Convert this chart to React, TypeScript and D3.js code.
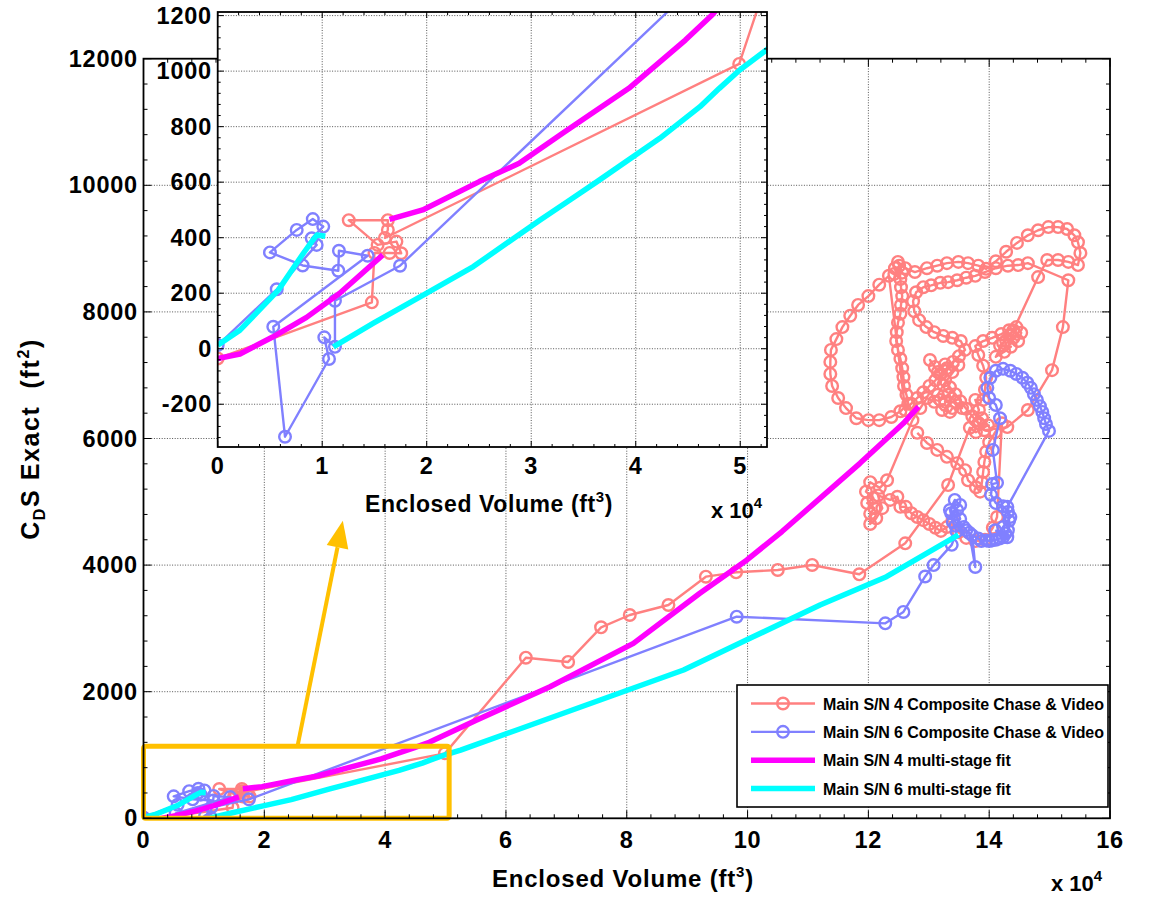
import { useEffect, useRef } from 'react'
import * as d3 from 'd3'

type Pt = [number, number]

// volume in 10^4 ft^3, CdS in ft^2
const sn4Data: Pt[] = [
  [0, -35], [1.475, 167], [1.5, 345], [1.645, 345], [1.756, 344], [1.71, 386], [1.53, 374],
  [1.254, 463], [1.628, 463], [1.628, 428], [1.6, 399], [4.99, 1026], [6.33, 2537], [7.03, 2470],
  [7.575, 3017], [8.05, 3212], [8.69, 3370], [9.31, 3817], [9.81, 3886], [10.5, 3923], [11.07, 4002],
  [11.85, 3855], [12.61, 4344], [13.32, 5265],
  [13.68, 6170], [13.78, 6100], [13.98, 6210], [13.88, 6320],
  [13.77, 6290], [13.83, 6450], [13.77, 6610], [13.9, 6610], [13.93, 6770], [13.95, 6960], [13.9, 7150], [13.82, 7320],
  [13.77, 7460], [13.9, 7540], [14.05, 7590], [14.2, 7650], [14.33, 7710], [14.45, 7760], [14.53, 7670],
  [14.48, 7540], [14.4, 7590], [14.28, 7550], [14.18, 7470], [14.36, 7450], [14.25, 7370], [14.11, 7290],
  [14.23, 7510], [14.35, 7640], [14.4, 7710],
  [14.81, 8550],
  [14.96, 8820], [15.14, 8820], [15.31, 8790], [15.47, 8740], [15.51, 8930], [15.47, 9100],
  [15.41, 9210], [15.29, 9310], [15.14, 9340], [14.98, 9340], [14.81, 9290], [14.64, 9210], [14.46, 9090],
  [14.28, 8950], [14.11, 8800], [13.95, 8680],
  [13.82, 8730], [13.65, 8770], [13.49, 8790], [13.3, 8770], [13.14, 8730], [12.97, 8690], [12.77, 8630],
  [12.61, 8690], [12.49, 8790], [12.56, 8620], [12.44, 8690], [12.53, 8520], [12.43, 8600], [12.51, 8730],
  [12.54, 8390], [12.56, 8250], [12.54, 8110], [12.53, 7970], [12.49, 7830], [12.47, 7680], [12.46, 7540],
  [12.49, 7400], [12.53, 7260], [12.56, 7110], [12.58, 6970], [12.59, 6830], [12.63, 6690], [12.66, 6550],
  [12.53, 6430], [12.38, 6340], [12.18, 6290], [12.0, 6290], [11.8, 6320], [11.63, 6480], [11.5, 6640],
  [11.4, 6830], [11.37, 7020], [11.37, 7210], [11.38, 7400], [11.47, 7570], [11.57, 7760], [11.7, 7940],
  [11.83, 8110], [12.0, 8250], [12.18, 8430], [12.34, 8570],
  [12.61, 6450],
  [12.71, 6550], [12.81, 6640], [12.91, 6730], [13.01, 6830], [13.11, 6920], [13.2, 7020], [13.3, 7110],
  [13.4, 7210], [13.5, 7300], [13.6, 7400],
  [13.53, 7540], [13.39, 7590], [13.24, 7620], [13.09, 7680], [12.96, 7760], [12.84, 7870], [12.76, 8010],
  [12.74, 8170], [12.79, 8310], [12.91, 8390],
  [13.04, 8420], [13.19, 8460], [13.32, 8470], [13.47, 8500], [13.62, 8540], [13.77, 8570], [13.93, 8630],
  [14.11, 8690], [14.31, 8730], [14.48, 8740], [14.64, 8770],
  [15.31, 8500], [15.22, 7760], [15.04, 7080], [14.64, 6450], [14.3, 6180],
  [13.92, 6130], [13.82, 6240], [13.72, 6350], [13.62, 6470], [13.52, 6590], [13.44, 6700], [13.35, 6810],
  [13.27, 6920], [13.19, 7020], [13.1, 7130], [13.02, 7240],
  [13.15, 7050], [13.27, 7170], [13.39, 7050], [13.49, 7160], [13.24, 6845],
  [13.15, 6690], [13.19, 6610], [13.32, 6690], [13.27, 6580], [13.44, 6580], [13.55, 6480], [13.39, 6480],
  [13.35, 6420], [13.22, 6450], [13.09, 6580], [12.97, 6640], [12.86, 6480],
  [12.73, 6290],
  [12.31, 5340], [12.19, 5220], [12.03, 5310], [11.96, 5160], [12.08, 5060], [11.98, 4980], [12.1, 4900],
  [12.03, 4810], [12.03, 4650], [12.13, 4740], [12.23, 4900], [12.16, 5100], [12.36, 5030], [12.48, 5080],
  [12.53, 4920],
  [12.62, 4920], [12.71, 4820], [12.81, 4760], [12.91, 4710], [13.01, 4650], [13.11, 4590], [13.2, 4540],
  [13.3, 4600], [13.39, 4700], [13.49, 4520], [13.62, 4430], [13.77, 4380], [13.93, 4400], [14.06, 4590],
  [14.13, 4760],
  [14.21, 6240], [14.1, 6100], [14.0, 5940], [13.95, 5790], [13.92, 5630], [13.9, 5470], [13.88, 5310],
  [13.85, 5160], [13.78, 5230], [13.65, 5340], [13.6, 5500], [13.47, 5610], [13.3, 5710], [13.14, 5820],
  [12.97, 5930], [12.81, 6090]
]

const sn6Data: Pt[] = [
  [0, 13], [0.565, 214], [0.947, 374], [0.9, 398], [1.01, 440], [0.91, 467], [0.756, 428], [0.5, 347],
  [0.813, 300], [1.154, 281], [1.16, 353], [1.435, 335], [0.532, 79], [0.644, -317], [1.065, -37],
  [1.02, 41], [1.122, 7], [1.122, 173], [1.745, 299], [9.82, 3185], [12.28, 3080], [12.58, 3260],
  [12.94, 3820], [13.08, 4000], [13.38, 4320], [13.46, 4530],
  [13.4, 4680], [13.35, 4870], [13.43, 5030], [13.52, 4950], [13.37, 4820], [13.47, 4870], [13.52, 4730],
  [13.44, 4620], [13.58, 4600], [13.62, 4550], [13.67, 4510], [13.77, 3970], [13.72, 4470], [13.82, 4420],
  [13.87, 4380], [13.95, 4390], [14.0, 4380], [14.05, 4390], [14.11, 4400], [14.17, 4420], [14.23, 4440],
  [14.27, 4500], [14.31, 4550], [14.33, 4700], [14.31, 4840], [14.23, 4930], [14.11, 4980], [14.03, 5110],
  [14.05, 5280], [14.13, 5300], [14.06, 5820], [14.18, 6320], [14.11, 6530], [14.0, 6640], [13.97, 6800],
  [14.02, 6960], [14.11, 7070], [14.23, 7100], [14.35, 7070], [14.45, 7020], [14.55, 6960], [14.63, 6880],
  [14.69, 6800], [14.74, 6700], [14.79, 6610], [14.84, 6510], [14.88, 6420], [14.91, 6320], [14.94, 6230],
  [14.99, 6120], [14.3, 4920], [14.35, 4760], [14.23, 4600], [14.3, 4440], [14.1, 4550]
]

const sn4FitStage1: Pt[] = [[0, -35], [0.213, -19], [0.53, 43], [0.85, 113], [1.167, 200], [1.58, 338]]
const sn4FitStage2: Pt[] = [
  [1.644, 466], [1.962, 500], [2.503, 602], [2.885, 668], [3.3, 776], [3.934, 938], [4.475, 1112],
  [4.73, 1202], [5.517, 1553], [6.73, 2079], [8.11, 2764], [9.21, 3555], [9.99, 4081], [10.57, 4530],
  [11.86, 5608], [12.58, 6240], [12.83, 6502]
]
const sn6FitStage1: Pt[] = [[0, 13], [0.213, 67], [0.58, 211], [0.82, 344], [0.9, 386], [0.95, 410], [1.03, 405]]
const sn6FitStage2: Pt[] = [
  [1.107, 7], [1.49, 92], [2.0, 200], [2.446, 296], [3.085, 464], [3.37, 536], [3.63, 602], [4.23, 758],
  [4.615, 872], [4.8, 938], [4.995, 1004], [5.25, 1076], [6.18, 1395], [7.56, 1869], [8.94, 2343],
  [10.04, 2843], [11.2, 3370], [12.3, 3817], [13.49, 4476]
]

const mainXTicks = [0, 2, 4, 6, 8, 10, 12, 14, 16]
const mainYTicks = [0, 2000, 4000, 6000, 8000, 10000, 12000]
const insetXTicks = [0, 1, 2, 3, 4, 5]
const insetYTicks = [-200, 0, 200, 400, 600, 800, 1000, 1200]

const legendLabels = [
  'Main S/N 4 Composite Chase & Video',
  'Main S/N 6 Composite Chase & Video',
  'Main S/N 4 multi-stage fit',
  'Main S/N 6 multi-stage fit'
]

// zoomed region shown in the inset, and the arrow pointing to it
const zoomBox = { x0: 0, x1: 5.06, y0: 0, y1: 1140 }
const arrowFrom: Pt = [2.55, 1140]
const arrowTo: Pt = [3.3, 4700]

const RED = '#FF8080'
const BLUE = '#8080FF'
const MAGENTA = '#FF00FF'
const CYAN = '#00FFFF'
const GOLD = '#FFC000'
const FONT = "'Liberation Sans', Arial, Helvetica, sans-serif"

type Lin = d3.ScaleLinear<number, number>
type Sel = d3.Selection<SVGGElement, unknown, null, undefined>

function range(a: number, b: number, step: number) {
  const out: number[] = []
  for (let v = a; v <= b + 1e-9; v += step) out.push(+v.toFixed(6))
  return out
}

function drawGrid(g: Sel, x: Lin, y: Lin, xMajor: number[], yMajor: number[]) {
  const [xl, xr] = x.range()
  const [yb, yt] = y.range()
  // dotted grid
  const grid = g.append('g').attr('stroke', '#555').attr('stroke-width', 1).attr('stroke-dasharray', '1,1.6')
  xMajor.filter(v => x(v) > xl + 2 && x(v) < xr - 2).forEach(v => {
    grid.append('line').attr('x1', x(v)).attr('x2', x(v)).attr('y1', yb).attr('y2', yt)
  })
  yMajor.filter(v => y(v) < yb - 2 && y(v) > yt + 2).forEach(v => {
    grid.append('line').attr('x1', xl).attr('x2', xr).attr('y1', y(v)).attr('y2', y(v))
  })
}

function drawBox(g: Sel, x: Lin, y: Lin, xMajor: number[], yMajor: number[], xStep: number, yStep: number, maj: number, min: number) {
  const [xl, xr] = x.range()
  const [yb, yt] = y.range()
  const [dx0, dx1] = x.domain()
  const [dy0, dy1] = y.domain()
  const t = g.append('g').attr('stroke', '#000').attr('stroke-width', 1)
  const xMinor = range(Math.ceil(dx0 / xStep) * xStep, dx1, xStep)
  const yMinor = range(Math.ceil(dy0 / yStep) * yStep, dy1, yStep)
  xMinor.forEach(v => {
    const len = xMajor.some(m => Math.abs(m - v) < 1e-6) ? maj : min
    t.append('line').attr('x1', x(v)).attr('x2', x(v)).attr('y1', yb).attr('y2', yb - len)
    t.append('line').attr('x1', x(v)).attr('x2', x(v)).attr('y1', yt).attr('y2', yt + len)
  })
  yMinor.forEach(v => {
    const len = yMajor.some(m => Math.abs(m - v) < 1e-6) ? maj : min
    t.append('line').attr('x1', xl).attr('x2', xl + len).attr('y1', y(v)).attr('y2', y(v))
    t.append('line').attr('x1', xr).attr('x2', xr - len).attr('y1', y(v)).attr('y2', y(v))
  })
  g.append('rect')
    .attr('x', xl).attr('y', yt).attr('width', xr - xl).attr('height', yb - yt)
    .attr('fill', 'none').attr('stroke', '#000').attr('stroke-width', 1.8)
}

function drawData(g: Sel, x: Lin, y: Lin) {
  const line = d3.line<Pt>().x(d => x(d[0])).y(d => y(d[1]))
  const series: [Pt[], string][] = [[sn4Data, RED], [sn6Data, BLUE]]
  series.forEach(([pts, color]) => {
    g.append('path').attr('d', line(pts)).attr('fill', 'none').attr('stroke', color)
      .attr('stroke-width', 2.4).attr('stroke-linejoin', 'round')
    g.append('g').selectAll('circle').data(pts).join('circle')
      .attr('cx', d => x(d[0])).attr('cy', d => y(d[1])).attr('r', 5.8)
      .attr('fill', 'none').attr('stroke', color).attr('stroke-width', 2.4)
  })
  const fits: [Pt[], string][] = [
    [sn4FitStage1, MAGENTA], [sn4FitStage2, MAGENTA], [sn6FitStage1, CYAN], [sn6FitStage2, CYAN]
  ]
  fits.forEach(([pts, color]) => {
    g.append('path').attr('d', line(pts)).attr('fill', 'none').attr('stroke', color)
      .attr('stroke-width', 5.5).attr('stroke-linejoin', 'round')
  })
}

export default function App() {
  const svgRef = useRef<SVGSVGElement>(null)

  useEffect(() => {
    if (!svgRef.current) return
    const svg = d3.select(svgRef.current)
    svg.selectAll('*').remove()

    const x = d3.scaleLinear().domain([0, 16]).range([143.5, 1110])
    const y = d3.scaleLinear().domain([0, 12000]).range([818.3, 58.7])
    const xi = d3.scaleLinear().domain([0, 5.256]).range([217.7, 767])
    const yi = d3.scaleLinear().domain([-354, 1213]).range([447, 12])

    const defs = svg.append('defs')
    defs.append('clipPath').attr('id', 'clipMain').append('rect')
      .attr('x', 143.5).attr('y', 58.7).attr('width', 1110 - 143.5).attr('height', 818.3 - 58.7)
    defs.append('clipPath').attr('id', 'clipInset').append('rect')
      .attr('x', 217.7).attr('y', 12).attr('width', 767 - 217.7).attr('height', 447 - 12)

    svg.append('rect').attr('width', 1169).attr('height', 898).attr('fill', '#fff')

    // main axes
    const main = svg.append('g').attr('font-family', FONT).attr('font-weight', 'bold')
    drawGrid(main, x, y, mainXTicks, mainYTicks)
    drawData(main.append('g').attr('clip-path', 'url(#clipMain)'), x, y)

    // zoom box + arrow
    main.append('rect')
      .attr('x', x(zoomBox.x0)).attr('y', y(zoomBox.y1))
      .attr('width', x(zoomBox.x1) - x(zoomBox.x0)).attr('height', y(zoomBox.y0) - y(zoomBox.y1))
      .attr('fill', 'none').attr('stroke', GOLD).attr('stroke-width', 5).attr('rx', 2)
    const ax0 = x(arrowFrom[0]), ay0 = y(arrowFrom[1]), ax1 = x(arrowTo[0]), ay1 = y(arrowTo[1])
    const len = Math.hypot(ax1 - ax0, ay1 - ay0)
    const ux = (ax1 - ax0) / len, uy = (ay1 - ay0) / len
    const bx = ax1 - ux * 27, by = ay1 - uy * 27
    main.append('line').attr('x1', ax0).attr('y1', ay0).attr('x2', bx).attr('y2', by)
      .attr('stroke', GOLD).attr('stroke-width', 4)
    main.append('path')
      .attr('d', `M${ax1},${ay1}L${bx - uy * 11},${by + ux * 11}L${bx + uy * 11},${by - ux * 11}Z`)
      .attr('fill', GOLD)

    drawBox(main, x, y, mainXTicks, mainYTicks, 0.4, 400, 8, 4)

    main.append('g').selectAll('text').data(mainXTicks).join('text')
      .attr('x', d => x(d)).attr('y', 848).attr('text-anchor', 'middle')
      .attr('font-size', 23.5).attr('letter-spacing', 0.8).text(d => d)
    main.append('g').selectAll('text').data(mainYTicks).join('text')
      .attr('x', 138).attr('y', d => y(d) + 8).attr('text-anchor', 'end')
      .attr('font-size', 23.5).attr('letter-spacing', 0.8).text(d => d)

    const xl = main.append('text').attr('x', 623).attr('y', 887).attr('text-anchor', 'middle')
      .attr('font-size', 24).attr('letter-spacing', 0.8)
    xl.append('tspan').text('Enclosed Volume (ft')
    xl.append('tspan').attr('font-size', 15).attr('dy', -10).text('3')
    xl.append('tspan').attr('dy', 10).text(')')

    const xm = main.append('text').attr('x', 1051).attr('y', 891).attr('font-size', 22)
    xm.append('tspan').text('x 10')
    xm.append('tspan').attr('font-size', 15).attr('dy', -10).text('4')

    const yl = main.append('text').attr('transform', 'translate(39,439) rotate(-90)')
      .attr('text-anchor', 'middle').attr('font-size', 25).attr('letter-spacing', 1.6)
      .attr('xml:space', 'preserve').style('white-space', 'pre')
    yl.append('tspan').text('C')
    yl.append('tspan').attr('font-size', 16).attr('dy', 6).text('D')
    yl.append('tspan').attr('dy', -6).text('S Exact  (ft')
    yl.append('tspan').attr('font-size', 16).attr('dy', -10).text('2')
    yl.append('tspan').attr('dy', 10).text(')')

    // legend
    const lg = main.append('g')
    lg.append('rect').attr('x', 737).attr('y', 685).attr('width', 371).attr('height', 122)
      .attr('fill', '#fff').attr('stroke', '#000').attr('stroke-width', 1.6)
    const legColors = [RED, BLUE, MAGENTA, CYAN]
    const rowY = d3.scalePoint<number>().domain([0, 1, 2, 3]).range([703.5, 788.5])
    legendLabels.forEach((label, i) => {
      const cy = rowY(i) as number
      lg.append('line').attr('x1', 751).attr('x2', 815).attr('y1', cy).attr('y2', cy)
        .attr('stroke', legColors[i]).attr('stroke-width', i < 2 ? 2.4 : 5.5)
      if (i < 2) {
        lg.append('circle').attr('cx', 783).attr('cy', cy).attr('r', 5.8)
          .attr('fill', 'none').attr('stroke', legColors[i]).attr('stroke-width', 2.4)
      }
      lg.append('text').attr('x', 823).attr('y', cy + 6).attr('font-size', 16).attr('letter-spacing', -0.1)
        .text(label)
    })

    // inset axes
    const inset = svg.append('g').attr('font-family', FONT).attr('font-weight', 'bold')
    inset.append('rect').attr('x', 217.7).attr('y', 12).attr('width', 767 - 217.7).attr('height', 447 - 12)
      .attr('fill', '#fff')
    drawGrid(inset, xi, yi, insetXTicks, insetYTicks)
    drawData(inset.append('g').attr('clip-path', 'url(#clipInset)'), xi, yi)
    drawBox(inset, xi, yi, insetXTicks, insetYTicks, 0.2, 40, 6, 3)

    inset.append('g').selectAll('text').data(insetXTicks).join('text')
      .attr('x', d => xi(d)).attr('y', 474).attr('text-anchor', 'middle')
      .attr('font-size', 23.5).attr('letter-spacing', 0.8).text(d => d)
    inset.append('g').selectAll('text').data(insetYTicks).join('text')
      .attr('x', 212).attr('y', d => yi(d) + 8).attr('text-anchor', 'end')
      .attr('font-size', 23.5).attr('letter-spacing', 0.8).text(d => d)

    const il = inset.append('text').attr('x', 489).attr('y', 512).attr('text-anchor', 'middle')
      .attr('font-size', 23).attr('letter-spacing', 0.6)
    il.append('tspan').text('Enclosed Volume (ft')
    il.append('tspan').attr('font-size', 15).attr('dy', -10).text('3')
    il.append('tspan').attr('dy', 10).text(')')

    const im = inset.append('text').attr('x', 711).attr('y', 518).attr('font-size', 22)
    im.append('tspan').text('x 10')
    im.append('tspan').attr('font-size', 15).attr('dy', -10).text('4')
  }, [])

  return (
    <svg
      ref={svgRef}
      width={1169}
      height={898}
      style={{ position: 'absolute', left: 0, top: 0, display: 'block' }}
    />
  )
}
